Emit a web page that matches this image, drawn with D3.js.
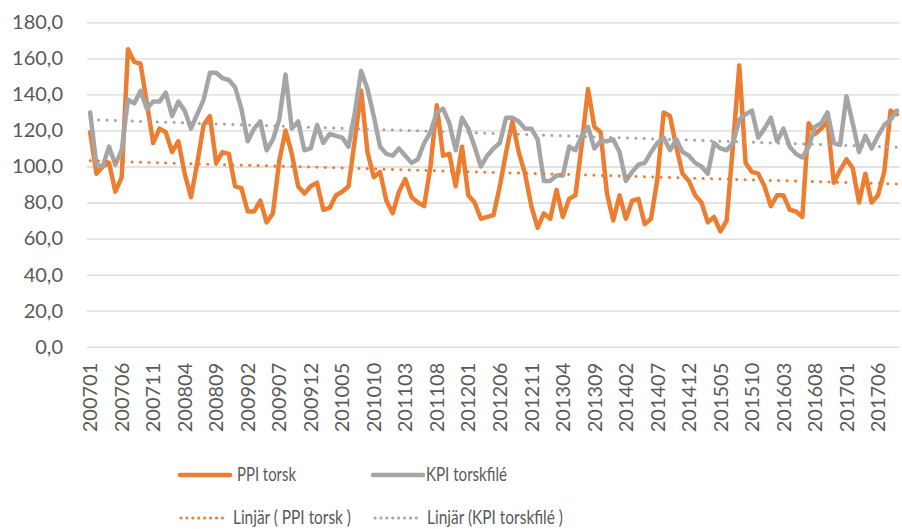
<!DOCTYPE html>
<html>
<head>
<meta charset="utf-8">
<script src="https://cdn.jsdelivr.net/npm/d3@7"></script>
<style>
  body { margin: 0; background: #fff; }
  text { font-family: Lato, "Open Sans", sans-serif; fill: #595959; }
</style>
</head>
<body>
<div id="chart"></div>
<script>
// first month and number of months in the series (200701 .. 201709)
var startYear = 2007, monthCount = 129;

var tickLabels = ["200701", "200706", "200711", "200804", "200809", "200902", "200907",
  "200912", "201005", "201010", "201103", "201108", "201201", "201206", "201211",
  "201304", "201309", "201402", "201407", "201412", "201505", "201510", "201603",
  "201608", "201701", "201706"];

var yTicks = [0, 20, 40, 60, 80, 100, 120, 140, 160, 180];

var ppiTorsk = [
  119, 96, 100, 102, 86, 94, 165, 158, 157, 135, 113, 121,
  119, 108, 114, 96, 83, 102, 123, 128, 102, 108, 107, 89,
  88, 75, 75, 81, 69, 74, 103, 120, 107, 89, 85, 89,
  91, 76, 77, 84, 86, 89, 115, 142, 108, 94, 97, 81,
  74, 86, 93, 83, 80, 78, 100, 134, 106, 107, 89, 111,
  84, 80, 71, 72, 73, 89, 108, 125, 108, 96, 78, 66,
  74, 71, 87, 72, 82, 84, 112, 143, 122, 119, 85, 70,
  84, 71, 81, 82, 68, 71, 93, 130, 128, 111, 96, 92,
  84, 80, 69, 72, 64, 70, 112, 156, 102, 97, 96, 89,
  78, 84, 84, 76, 75, 72, 124, 118, 121, 125, 91, 98,
  104, 99, 80, 96, 80, 84, 97, 131, 129];

var kpiTorskfile = [
  130, 101, 100, 111, 101, 109, 137, 135, 142, 132, 136, 136,
  141, 128, 136, 131, 121, 129, 137, 152, 152, 149, 148, 144,
  132, 114, 121, 125, 109, 115, 126, 151, 121, 125, 109, 110,
  123, 113, 118, 117, 116, 111, 130, 153, 143, 128, 111, 107,
  106, 110, 106, 102, 104, 113, 119, 130, 132, 124, 109, 127,
  121, 111, 100, 106, 110, 113, 127, 127, 125, 121, 121, 115,
  92, 92, 95, 95, 111, 109, 117, 122, 110, 114, 114, 115,
  108, 92, 97, 101, 102, 108, 113, 116, 109, 115, 108, 106,
  102, 100, 96, 113, 110, 109, 113, 126, 129, 131, 116, 121,
  127, 114, 121, 111, 107, 105, 111, 122, 124, 130, 113, 112,
  139, 124, 108, 117, 110, 117, 123, 126, 131];

var months = [];
for (var k = 0; k < monthCount; k++) {
  var yr = startYear + Math.floor(k / 12), mo = k % 12 + 1;
  months.push(yr + (mo < 10 ? "0" : "") + mo);
}

var series = [
  { name: "PPI torsk", trend: "Linjär ( PPI torsk )", color: "#ED7D31", values: ppiTorsk },
  { name: "KPI torskfilé", trend: "Linjär (KPI torskfilé )", color: "#A5A5A5", values: kpiTorskfile }
];

var W = 902, H = 529;
var svg = d3.select("#chart").append("svg").attr("width", W).attr("height", H);
svg.append("rect").attr("width", W).attr("height", H).attr("fill", "#fff");

var x = d3.scaleBand().domain(months).range([87, 900]);
var y = d3.scaleLinear().domain([0, 180]).range([346.7, 22.3]);
var cx = function (m) { return x(m) + x.bandwidth() / 2; };

var se = d3.formatLocale({ decimal: ",", thousands: " ", grouping: [3], currency: ["", " kr"] });
var fmt = se.format(".1f");

// gridlines + y labels
var yAxis = svg.append("g")
  .attr("transform", "translate(87,0)")
  .call(d3.axisLeft(y).tickValues(yTicks).tickSize(-813).tickPadding(24).tickFormat(fmt));
yAxis.select(".domain").remove();
yAxis.selectAll("line").attr("stroke", "#d9d9d9").attr("stroke-width", 1.3);
yAxis.selectAll("text").style("font-size", "20px").attr("fill", "#595959").style("font-family", "Lato, sans-serif");

// x labels, rotated
var xAxis = svg.append("g")
  .attr("transform", "translate(0,346.7)")
  .call(d3.axisBottom(x).tickValues(tickLabels).tickSize(0));
xAxis.select(".domain").remove();
xAxis.selectAll("text")
  .attr("transform", "rotate(-90)")
  .attr("x", -16).attr("y", 0).attr("dy", "0.36em")
  .style("text-anchor", "end")
  .style("font-size", "20px").attr("fill", "#595959").style("font-family", "Lato, sans-serif");

var line = d3.line()
  .x(function (d, i) { return cx(months[i]); })
  .y(function (d) { return y(d); });

series.forEach(function (s) {
  svg.append("path")
    .datum(s.values)
    .attr("fill", "none")
    .attr("stroke", s.color)
    .attr("stroke-width", 4.5)
    .attr("stroke-linejoin", "round")
    .attr("stroke-linecap", "round")
    .attr("d", line);
});

// linear trendlines (least squares, like Excel)
series.forEach(function (s) {
  var n = s.values.length, sx = 0, sy = 0, sxx = 0, sxy = 0;
  s.values.forEach(function (v, i) { sx += i; sy += v; sxx += i * i; sxy += i * v; });
  var b = (n * sxy - sx * sy) / (n * sxx - sx * sx), a = (sy - b * sx) / n;
  svg.append("line")
    .attr("x1", cx(months[0])).attr("y1", y(a))
    .attr("x2", cx(months[n - 1])).attr("y2", y(a + b * (n - 1)))
    .attr("stroke", s.color)
    .attr("stroke-width", 3)
    .attr("stroke-linecap", "round")
    .attr("stroke-dasharray", "0.1 8.3");
});

// legend
var leg = [
  { x: 180, y: 475, w: 50, tx: 237, tl: 59, dotted: false, s: series[0], label: series[0].name },
  { x: 373, y: 475, w: 50, tx: 426, tl: 81, dotted: false, s: series[1], label: series[1].name },
  { x: 181, y: 518, w: 47, tx: 233, tl: 118, dotted: true, s: series[0], label: series[0].trend },
  { x: 375, y: 518, w: 47, tx: 427, tl: 136, dotted: true, s: series[1], label: series[1].trend }
];
leg.forEach(function (l) {
  svg.append("line")
    .attr("x1", l.x).attr("x2", l.x + l.w).attr("y1", l.y).attr("y2", l.y)
    .attr("stroke", l.s.color)
    .attr("stroke-width", l.dotted ? 3 : 4.5)
    .attr("stroke-linecap", "round")
    .attr("stroke-dasharray", l.dotted ? "0.1 5.8" : null);
  svg.append("text")
    .attr("x", l.tx).attr("y", l.y).attr("dy", "0.34em")
    .attr("textLength", l.tl).attr("lengthAdjust", "spacingAndGlyphs")
    .style("font-size", "19px")
    .text(l.label);
});
</script>
</body>
</html>
